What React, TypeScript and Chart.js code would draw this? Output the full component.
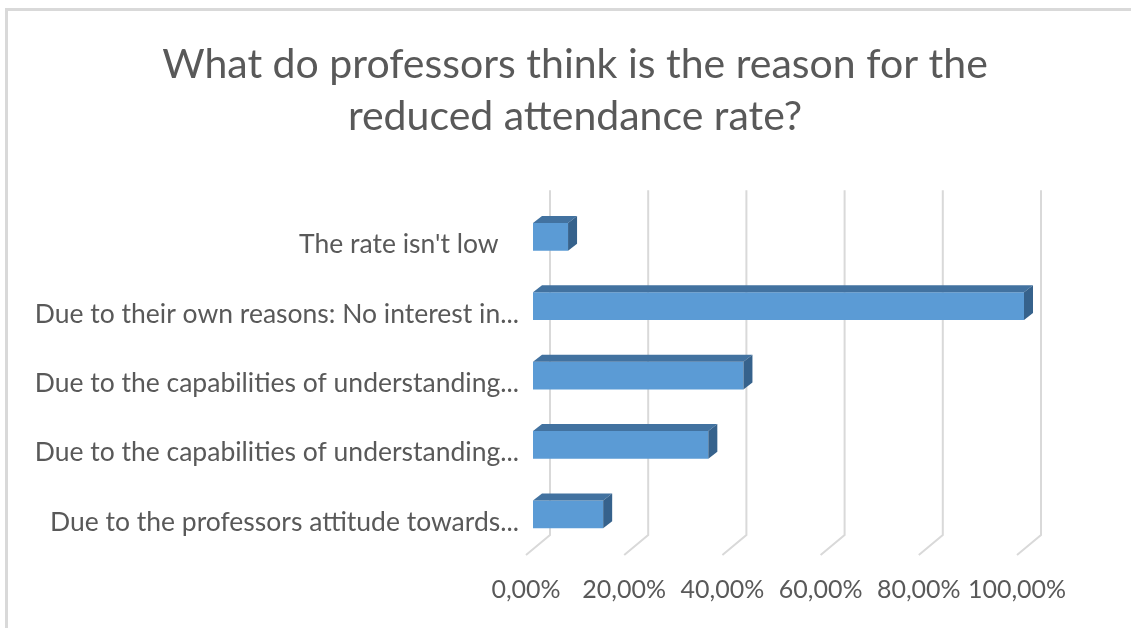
import React, { useEffect, useRef } from "react";
import { Chart, registerables } from "chart.js";

Chart.register(...registerables);

const titleLines = ["What do professors think is the reason for the", "reduced attendance rate?"];
const categories = [
  "The rate isn't low   ",
  "Due to their own reasons: No interest in...",
  "Due to the capabilities of understanding...",
  "Due to the capabilities of understanding...",
  "Due to the professors attitude towards...",
];
const values = [7.14, 100, 42.86, 35.71, 14.29];
const tickValues = [0, 20, 40, 60, 80, 100];

const FONT = "Lato, 'Open Sans', sans-serif";
const TEXT = "#595959";
const GRID = "#d9d9d9";
const FRONT = "#5B9BD5";
const TOP = "#4272A0";
const SIDE = "#36628C";
const DX = 9;
const DY = 7;

const threeD = {
  id: "threeD",
  beforeDraw(chart: any) {
    const ctx = chart.ctx;
    ctx.save();
    ctx.strokeStyle = GRID;
    ctx.lineWidth = 3;
    ctx.strokeRect(6.5, 9.5, chart.width + 20, chart.height + 20);
    ctx.restore();
  },
  beforeDatasetsDraw(chart: any) {
    const { ctx, chartArea, scales } = chart;
    const xs = scales.x;
    ctx.save();
    ctx.strokeStyle = GRID;
    ctx.lineWidth = 2;
    for (const v of tickValues) {
      const p = xs.getPixelForValue(v);
      const back = p + 17;
      const front = p - 7;
      ctx.beginPath();
      ctx.moveTo(back, chartArea.top - 12);
      ctx.lineTo(back, chartArea.bottom - 14);
      ctx.lineTo(front, chartArea.bottom + 6);
      ctx.stroke();
    }
    ctx.restore();
  },
  afterDatasetsDraw(chart: any) {
    const ctx = chart.ctx;
    const meta = chart.getDatasetMeta(0);
    ctx.save();
    meta.data.forEach((el: any) => {
      const { x, y, base, height } = el.getProps(["x", "y", "base", "height"], true);
      const x0 = Math.min(x, base);
      const x1 = Math.max(x, base);
      const yt = y - height / 2;
      const yb = y + height / 2;
      ctx.fillStyle = TOP;
      ctx.beginPath();
      ctx.moveTo(x0, yt);
      ctx.lineTo(x0 + DX, yt - DY);
      ctx.lineTo(x1 + DX, yt - DY);
      ctx.lineTo(x1, yt);
      ctx.closePath();
      ctx.fill();
      ctx.fillStyle = SIDE;
      ctx.beginPath();
      ctx.moveTo(x1, yt);
      ctx.lineTo(x1 + DX, yt - DY);
      ctx.lineTo(x1 + DX, yb - DY);
      ctx.lineTo(x1, yb);
      ctx.closePath();
      ctx.fill();
    });
    ctx.restore();
  },
};

export default function App() {
  const ref = useRef<HTMLCanvasElement | null>(null);
  useEffect(() => {
    document.body.style.margin = "0";
    const canvas = ref.current;
    if (!canvas) return;
    const chart = new Chart(canvas, {
      type: "bar",
      data: {
        labels: categories,
        datasets: [
          {
            data: values,
            backgroundColor: FRONT,
            borderWidth: 0,
            barPercentage: 0.4,
            categoryPercentage: 1,
          },
        ],
      },
      options: {
        indexAxis: "y",
        animation: false,
        responsive: false,
        maintainAspectRatio: false,
        layout: { padding: { left: 19, right: 0, top: 0, bottom: 0 } },
        plugins: {
          legend: { display: false },
          tooltip: { enabled: false },
          title: {
            display: true,
            text: titleLines,
            color: TEXT,
            font: { family: FONT, size: 41, weight: "normal", lineHeight: 1.27 },
            padding: { top: 39, bottom: 59 },
          },
        },
        scales: {
          x: {
            min: 0,
            max: 100,
            grid: { display: false, drawTicks: false },
            border: { display: false },
            afterBuildTicks: (scale: any) => {
              scale.ticks = tickValues.map((v) => ({ value: v }));
            },
            afterFit: (scale: any) => {
              scale.height = 79;
            },
            ticks: {
              color: TEXT,
              font: { family: FONT, size: 25 },
              padding: 26,
              labelOffset: -7,
              maxRotation: 0,
              autoSkip: false,
              callback: (v: any) => Number(v).toFixed(2).replace(".", ",") + "%",
            },
          },
          y: {
            grid: { display: false, drawTicks: false },
            border: { display: false },
            afterFit: (scale: any) => {
              scale.width = 533 - 19;
            },
            ticks: {
              color: TEXT,
              font: { family: FONT, size: 26.5 },
              padding: 14,
              labelOffset: 8,
              autoSkip: false,
            },
          },
          yRight: {
            type: "linear",
            position: "right",
            display: true,
            grid: { display: false, drawTicks: false },
            border: { display: false },
            ticks: { display: false },
            afterFit: (scale: any) => {
              scale.width = 1131 - 1024;
            },
          },
        },
      },
      plugins: [threeD],
    } as any);
    return () => chart.destroy();
  }, []);
  return <canvas ref={ref} width={1131} height={628} style={{ display: "block" }} />;
}
